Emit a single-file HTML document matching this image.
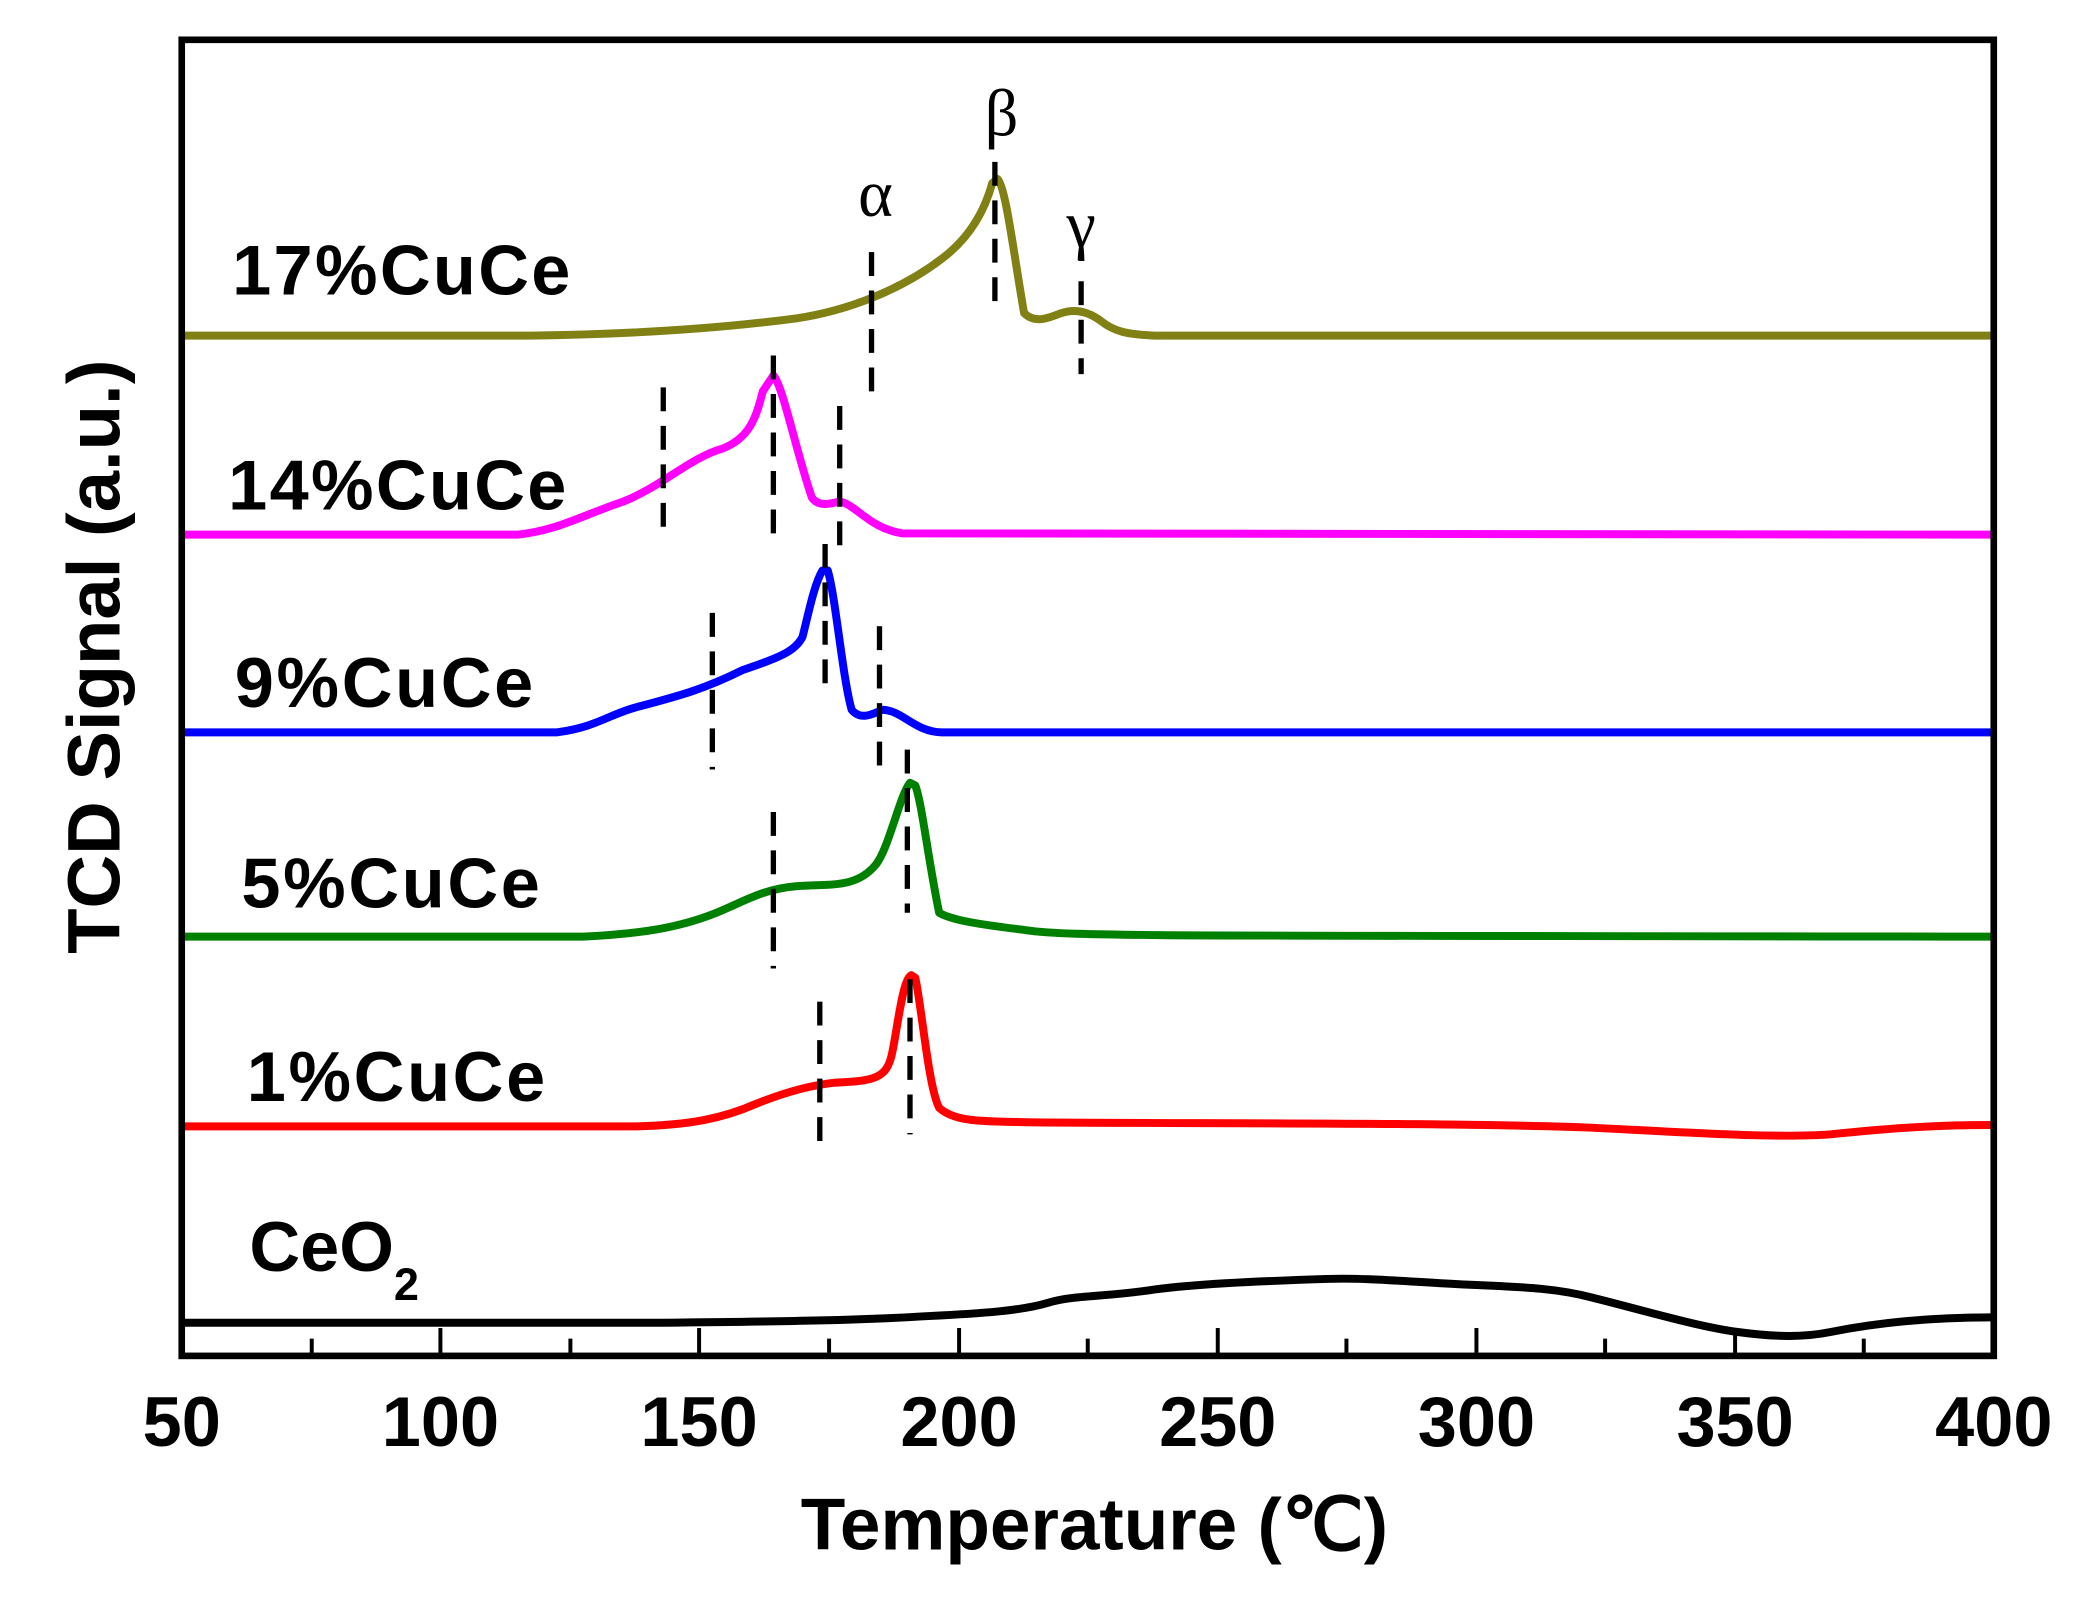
<!DOCTYPE html>
<html><head><meta charset="utf-8"><style>
html,body{margin:0;padding:0;background:#fff;width:2080px;height:1600px;overflow:hidden}
svg{display:block}
text{font-family:"Liberation Sans",Arial,sans-serif;font-weight:bold;fill:#000}
.g{font-family:"Liberation Serif","DejaVu Serif",serif;font-weight:normal}
</style></head><body>
<svg width="2080" height="1600" viewBox="0 0 1568 1206" preserveAspectRatio="none">
<g fill="none" stroke-width="6" stroke-linejoin="round" stroke-linecap="round">
<path stroke="#808015" d="M139,253 L400,253 C470,252 540,248 600,240 C640,234 680,218 710,195 C730,180 742,160 748,138 L752,135 C758,140 764,190 772,236 C780,244 790,240 800,236 C812,232 822,236 830,242 C840,250 850,252 870,253 L1501,253"/>
<path stroke="#ff00ff" d="M139,403 L390,403 C420,400 440,388 470,378 C500,366 520,345 545,338 C565,330 570,315 575,295 L583,283 C590,290 600,340 612,375 C617,382 625,380 633,378 C645,380 655,398 680,402 L1501,403"/>
<path stroke="#0000ff" d="M139,552 L420,552 C450,548 460,538 480,533 C510,525 530,520 560,505 C590,495 600,490 605,480 C610,460 614,440 620,430 L624,430 C630,450 635,510 642,535 C648,542 655,540 665,535 C680,535 690,552 710,552 L1501,552"/>
<path stroke="#008000" d="M139,706 L440,706 C480,704 510,700 540,688 C560,680 575,670 600,668 C625,666 645,670 660,652 C670,640 678,600 686,590 L690,592 C695,605 700,650 708,688 C720,695 750,698 780,702 C820,706 900,705 1501,706"/>
<path stroke="#ff0000" d="M139,849 L480,849 C520,848 545,843 570,832 C590,824 610,818 630,816 C660,815 668,812 672,796 C676,780 680,738 687,735 L690,737 C695,760 700,820 708,835 C720,846 740,845 780,846 C900,847 1100,846 1200,850 C1280,854 1340,858 1380,855 C1430,850 1460,848 1501,848"/>
<path stroke="#000" d="M139,997 L500,997 C600,996 650,995 700,992 C740,990 770,988 790,982 C810,976 830,978 870,972 C900,968 940,966 1000,964 C1030,963 1060,966 1100,968 C1140,970 1170,970 1200,978 C1240,988 1280,1000 1310,1004 C1340,1008 1360,1008 1380,1004 C1420,996 1460,993 1501,993"/>
</g>
<g stroke="#000" stroke-width="4" stroke-dasharray="18 11">
<line x1="657" y1="190" x2="657" y2="305"/>
<line x1="750" y1="122" x2="750" y2="235"/>
<line x1="815" y1="212" x2="815" y2="282"/>
<line x1="500" y1="292" x2="500" y2="407"/>
<line x1="583" y1="268" x2="583" y2="407"/>
<line x1="633" y1="306" x2="633" y2="412"/>
<line x1="537" y1="462" x2="537" y2="580"/>
<line x1="622" y1="410" x2="622" y2="525"/>
<line x1="663" y1="472" x2="663" y2="585"/>
<line x1="583" y1="612" x2="583" y2="730"/>
<line x1="684" y1="565" x2="684" y2="688"/>
<line x1="618" y1="755" x2="618" y2="870"/>
<line x1="686" y1="738" x2="686" y2="855"/>
</g>
<rect x="137" y="30" width="1366" height="992" fill="none" stroke="#000" stroke-width="5"/>
<g stroke="#000" stroke-width="3">
<line x1="332" y1="1022" x2="332" y2="1001"/><line x1="527" y1="1022" x2="527" y2="1001"/>
<line x1="723" y1="1022" x2="723" y2="1001"/><line x1="918" y1="1022" x2="918" y2="1001"/>
<line x1="1113" y1="1022" x2="1113" y2="1001"/><line x1="1308" y1="1022" x2="1308" y2="1001"/>
<line x1="235" y1="1022" x2="235" y2="1009"/><line x1="430" y1="1022" x2="430" y2="1009"/>
<line x1="625" y1="1022" x2="625" y2="1009"/><line x1="820" y1="1022" x2="820" y2="1009"/>
<line x1="1015" y1="1022" x2="1015" y2="1009"/><line x1="1210" y1="1022" x2="1210" y2="1009"/>
<line x1="1405" y1="1022" x2="1405" y2="1009"/>
</g>
<g font-size="53" text-anchor="middle">
<text x="137" y="1090">50</text><text x="332" y="1090">100</text><text x="527" y="1090">150</text>
<text x="723" y="1090">200</text><text x="918" y="1090">250</text><text x="1113" y="1090">300</text>
<text x="1308" y="1090">350</text><text x="1503" y="1090">400</text>
</g>
<text x="825" y="1168" font-size="55" text-anchor="middle">Temperature (℃)</text>
<text transform="translate(90,495) rotate(-90)" font-size="56" text-anchor="middle">TCD Signal (a.u.)</text>
<g font-size="53">
<text x="175" y="222" textLength="255">17%CuCe</text>
<text x="172" y="384" textLength="255">14%CuCe</text>
<text x="177" y="533" textLength="225">9%CuCe</text>
<text x="182" y="684" textLength="225">5%CuCe</text>
<text x="186" y="830" textLength="225">1%CuCe</text>
<text x="188" y="958">CeO<tspan font-size="34" dy="22">2</tspan></text>
</g>
<g font-size="50" text-anchor="middle">
<text class="g" x="660" y="163">α</text>
<text class="g" x="755" y="102">β</text>
<text class="g" x="815" y="186">γ</text>
</g>
</svg>
</body></html>
